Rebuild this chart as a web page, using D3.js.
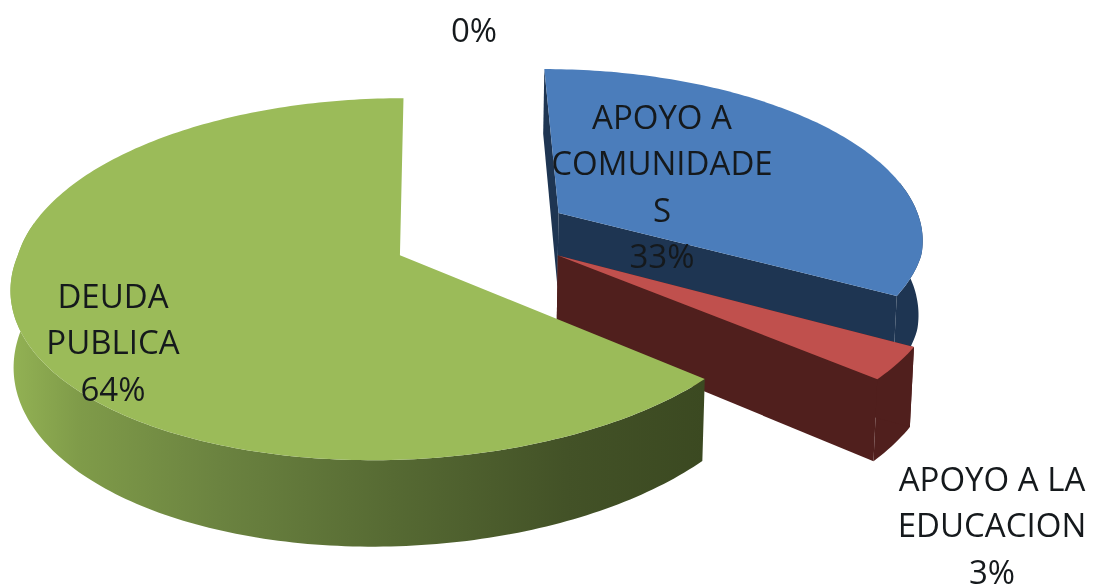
<!DOCTYPE html>
<html>
<head>
<meta charset="utf-8">
<script src="https://cdn.jsdelivr.net/npm/d3@7"></script>
<style>
    html, body { margin: 0; padding: 0; background: #fff; }
    svg { display: block; filter: blur(0.5px); }
    .label { font-family: "Open Sans", sans-serif; font-size: 33px; fill: #15191c; text-anchor: middle; }
</style>
</head>
<body>
<div id="chart"></div>
<script>
// Values
var categories = ["APOYO A COMUNIDADES", "APOYO A LA EDUCACION", "DEUDA PUBLICA", ""];
var values = [33, 3, 64, 0];
var labelLines = [
    ["APOYO A", "COMUNIDADE", "S", "33%"],
    ["APOYO A LA", "EDUCACION", "3%"],
    ["DEUDA", "PUBLICA", "64%"],
    ["0%"]
];

var topColors = ["#4b7dbb", "#c0504d", "#9bbb59"];
var wallColors = ["#1e3552", "#501f1d", "url(#greenWall)"];

var width = 1093, height = 586;

var svg = d3.select("#chart").append("svg")
    .attr("width", width)
    .attr("height", height);

// Dark to the right, like the lit side wall of the big slice
var grad = svg.append("defs").append("linearGradient")
    .attr("id", "greenWall")
    .attr("gradientUnits", "userSpaceOnUse")
    .attr("x1", 10).attr("x2", 705).attr("y1", 0).attr("y2", 0);
[[0, "#93b254"], [0.1, "#7f9b49"], [0.3, "#6b8340"], [0.55, "#566a33"], [0.8, "#435227"], [1, "#3b4921"]]
    .forEach(function(s){
        grad.append("stop").attr("offset", s[0]).attr("stop-color", s[1]);
    });

// 3D view of the pie plane. x,y are in pie radii, y goes to the back.
var view = {
    cx: 400, cy: 255,       // where the green slice's tip lands
    rx: 382, ry: 177.8,
    skewBack: 4, skewFront: 24,
    persp: 0.1326,
    depth: 75,              // wall height
    converge: 0.008,
    explode: 0.23,
    ox: 0.208, oy: 0.097    // pie centre relative to the green tip
};

// per slice touch-ups so the pieces sit where the picture has them
var sliceRadius = [0.97, 1, 1];
var sliceShift = [[0.02, 0.03], [0.015, 0.03], [0, 0]];

function project(x, y, bottom) {
    var px = x + view.ox, py = y + view.oy;
    var w = 1 + view.persp * py;
    var skew = py < 0 ? view.skewFront : view.skewBack;
    var sx = view.cx + (view.rx * px + skew * py) / w;
    var sy = view.cy - view.ry * py / w;
    if (bottom) {
        sx = view.cx + (sx - view.cx) * (1 - view.converge);
        sy += view.depth / w;
    }
    return [sx, sy];
}

var pie = d3.pie().sort(null).value(function(d){ return d; });
var slices = pie(values);

var line = d3.line();

slices.forEach(function(d, i){
    if (d.value === 0) { return; }

    var mid = (d.startAngle + d.endAngle) / 2;
    var dx = view.explode * Math.sin(mid) + sliceShift[i][0],
        dy = view.explode * Math.cos(mid) + sliceShift[i][1];
    var r = sliceRadius[i];

    function rim(a, bottom) {
        return project(dx + r * Math.sin(a), dy + r * Math.cos(a), bottom);
    }
    var tip = function(bottom) { return project(dx, dy, bottom); };

    var angles = d3.range(d.startAngle, d.endAngle, Math.PI / 180).concat([d.endAngle]);

    var g = svg.append("g").attr("class", "slice");

    // outer wall (only the part facing us), then both cut faces, then the top
    var front = angles.filter(function(a){ return Math.cos(a) < 0.2; });
    var outer = front.map(function(a){ return rim(a, false); })
        .concat(front.slice().reverse().map(function(a){ return rim(a, true); }));
    g.append("path").attr("d", line(outer) + "Z").attr("fill", wallColors[i]);

    // the green cut faces look away from the viewer
    if (i !== 2) {
        [d.startAngle, d.endAngle].forEach(function(a){
            var face = [tip(false), rim(a, false), rim(a, true), tip(true)];
            g.append("path").attr("d", line(face) + "Z").attr("fill", wallColors[i]);
        });
    }

    var top = [tip(false)].concat(angles.map(function(a){ return rim(a, false); }));
    g.append("path").attr("d", line(top) + "Z").attr("fill", topColors[i]);
});

// Label block centres and line spacing, one entry per category
var labelAt = [[662, 117], [992, 479], [113, 296], [474, 30]];
var lineStep = 46.5;

labelLines.forEach(function(lines, i){
    lines.forEach(function(t, j){
        svg.append("text")
            .attr("class", "label")
            .attr("x", labelAt[i][0])
            .attr("y", labelAt[i][1] + j * lineStep)
            .attr("dy", "0.35em")
            .text(t);
    });
});
</script>
</body>
</html>
